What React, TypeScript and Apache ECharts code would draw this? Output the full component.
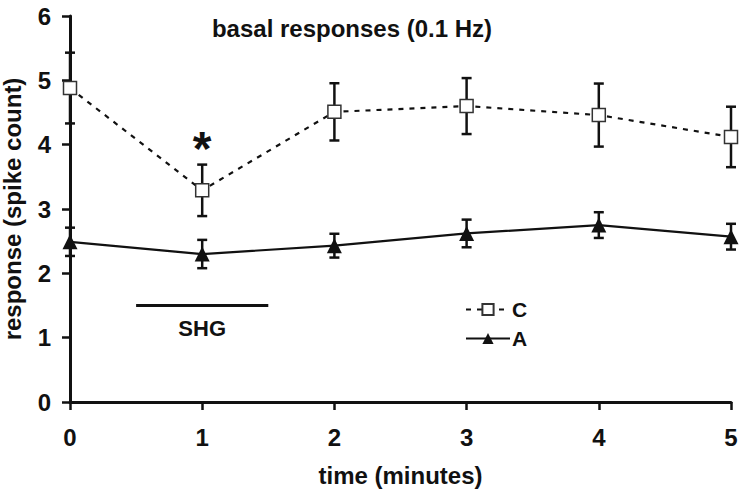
import React, { useEffect, useRef } from "react";
import * as echarts from "echarts";

const times = [0, 1, 2, 3, 4, 5];
const cMean = [4.88, 3.29, 4.51, 4.6, 4.46, 4.12];
const cSem = [0.55, 0.4, 0.445, 0.435, 0.49, 0.47];
const aMean = [2.49, 2.3, 2.43, 2.62, 2.75, 2.57];
const aSem = [0.22, 0.22, 0.185, 0.215, 0.2, 0.2];
const xTicks = [0, 1, 2, 3, 4, 5];
const yTicks = [0, 1, 2, 3, 4, 5, 6];
const shgStart = 0.5;
const shgEnd = 1.5;
const shgLevel = 1.5;
const starAt = 1;

const FONT = "'Liberation Sans', Arial, sans-serif";
const INK = "#111";

function errData(mean: number[], sem: number[]) {
  return times.map((t, i) => [t, mean[i] - sem[i], mean[i] + sem[i]]);
}

function errorRender(params: any, api: any) {
  const x = api.value(0);
  const lo = api.coord([x, api.value(1)]);
  const hi = api.coord([x, api.value(2)]);
  const hw = 5;
  const style = { stroke: INK, lineWidth: 2.5 };
  return {
    type: "group",
    children: [
      { type: "line", shape: { x1: lo[0], y1: lo[1], x2: hi[0], y2: hi[1] }, style },
      { type: "line", shape: { x1: lo[0] - hw, y1: lo[1], x2: lo[0] + hw, y2: lo[1] }, style },
      { type: "line", shape: { x1: hi[0] - hw, y1: hi[1], x2: hi[0] + hw, y2: hi[1] }, style },
    ],
  };
}

export default function App() {
  const ref = useRef<HTMLDivElement>(null);
  useEffect(() => {
    if (!ref.current) return;
    const chart = echarts.init(ref.current, null, { renderer: "svg" });
    const starIdx = times.indexOf(starAt);
    const option: any = {
      animation: false,
      backgroundColor: "#fff",
      title: {
        text: "basal responses (0.1 Hz)",
        left: 347,
        top: 11,
        textAlign: "center",
        textStyle: { fontFamily: FONT, fontWeight: "bold", fontSize: 24, color: INK },
      },
      grid: { left: 70, right: 11, top: 16, bottom: 96, containLabel: false, outerBoundsMode: "none" },
      legend: {
        orient: "vertical",
        left: 460,
        top: 294,
        itemWidth: 44,
        itemHeight: 14,
        itemGap: 8,
        data: ["C", "A"],
        textStyle: { fontFamily: FONT, fontWeight: "bold", fontSize: 21, color: INK, padding: [0, 0, 0, -3] },
      },
      xAxis: {
        type: "value",
        min: 0,
        max: 5,
        interval: 1,
        name: "time (minutes)",
        nameLocation: "middle",
        nameGap: 61,
        nameTextStyle: { fontFamily: FONT, fontWeight: "bold", fontSize: 24, color: INK },
        axisLine: { show: true, lineStyle: { color: INK, width: 3 } },
        axisTick: { show: true, length: 8, lineStyle: { color: INK, width: 2.5 } },
        axisLabel: {
          fontFamily: FONT,
          fontWeight: "bold",
          fontSize: 24,
          color: INK,
          margin: 23,
          customValues: xTicks,
        },
        splitLine: { show: false },
      },
      yAxis: {
        type: "value",
        min: 0,
        max: 6,
        interval: 1,
        name: "response (spike count)",
        nameLocation: "middle",
        nameGap: 46,
        nameRotate: 90,
        nameTextStyle: { fontFamily: FONT, fontWeight: "bold", fontSize: 24, color: INK },
        axisLine: { show: true, lineStyle: { color: INK, width: 3 } },
        axisTick: { show: true, length: 8, lineStyle: { color: INK, width: 2.5 } },
        axisLabel: {
          fontFamily: FONT,
          fontWeight: "bold",
          fontSize: 24,
          color: INK,
          margin: 19,
          customValues: yTicks,
        },
        splitLine: { show: false },
      },
      series: [
        {
          type: "custom",
          name: "errC",
          renderItem: errorRender,
          data: errData(cMean, cSem),
          encode: { x: 0, y: [1, 2] },
          z: 1,
          silent: true,
        },
        {
          type: "custom",
          name: "errA",
          renderItem: errorRender,
          data: errData(aMean, aSem),
          encode: { x: 0, y: [1, 2] },
          z: 1,
          silent: true,
        },
        {
          type: "line",
          name: "C",
          data: times.map((t, i) => [t, cMean[i]]),
          symbol: "rect",
          symbolSize: 13,
          showAllSymbol: true,
          lineStyle: { color: INK, width: 2.2, type: [5, 6] },
          itemStyle: { color: "#fff", borderColor: "#333", borderWidth: 1.5 },
          z: 3,
          markLine: {
            silent: true,
            symbol: "none",
            label: {
              show: true,
              position: "insideMiddleBottom",
              formatter: "SHG",
              distance: 12,
              fontFamily: FONT,
              fontWeight: "bold",
              fontSize: 22,
              color: INK,
            },
            lineStyle: { color: INK, width: 3, type: "solid" },
            data: [[{ coord: [shgStart, shgLevel] }, { coord: [shgEnd, shgLevel] }]],
          },
          markPoint: {
            silent: true,
            symbol: "rect",
            symbolSize: [2, 2],
            itemStyle: { color: "rgba(0,0,0,0)", borderWidth: 0 },
            data: [
              {
                coord: [starAt, cMean[starIdx] + cSem[starIdx]],
                label: {
                  show: true,
                  formatter: "*",
                  position: "inside",
                  offset: [0, -16],
                  fontFamily: FONT,
                  fontWeight: "bold",
                  fontSize: 48,
                  color: INK,
                },
              },
            ],
          },
        },
        {
          type: "line",
          name: "A",
          data: times.map((t, i) => [t, aMean[i]]),
          symbol: "triangle",
          symbolSize: 15,
          showAllSymbol: true,
          lineStyle: { color: INK, width: 2.2 },
          itemStyle: { color: INK },
          z: 3,
        },
      ],
    };
    chart.setOption(option);
    return () => chart.dispose();
  }, []);
  return <div ref={ref} style={{ width: 742, height: 498, position: "absolute", left: 0, top: 0 }} />;
}
